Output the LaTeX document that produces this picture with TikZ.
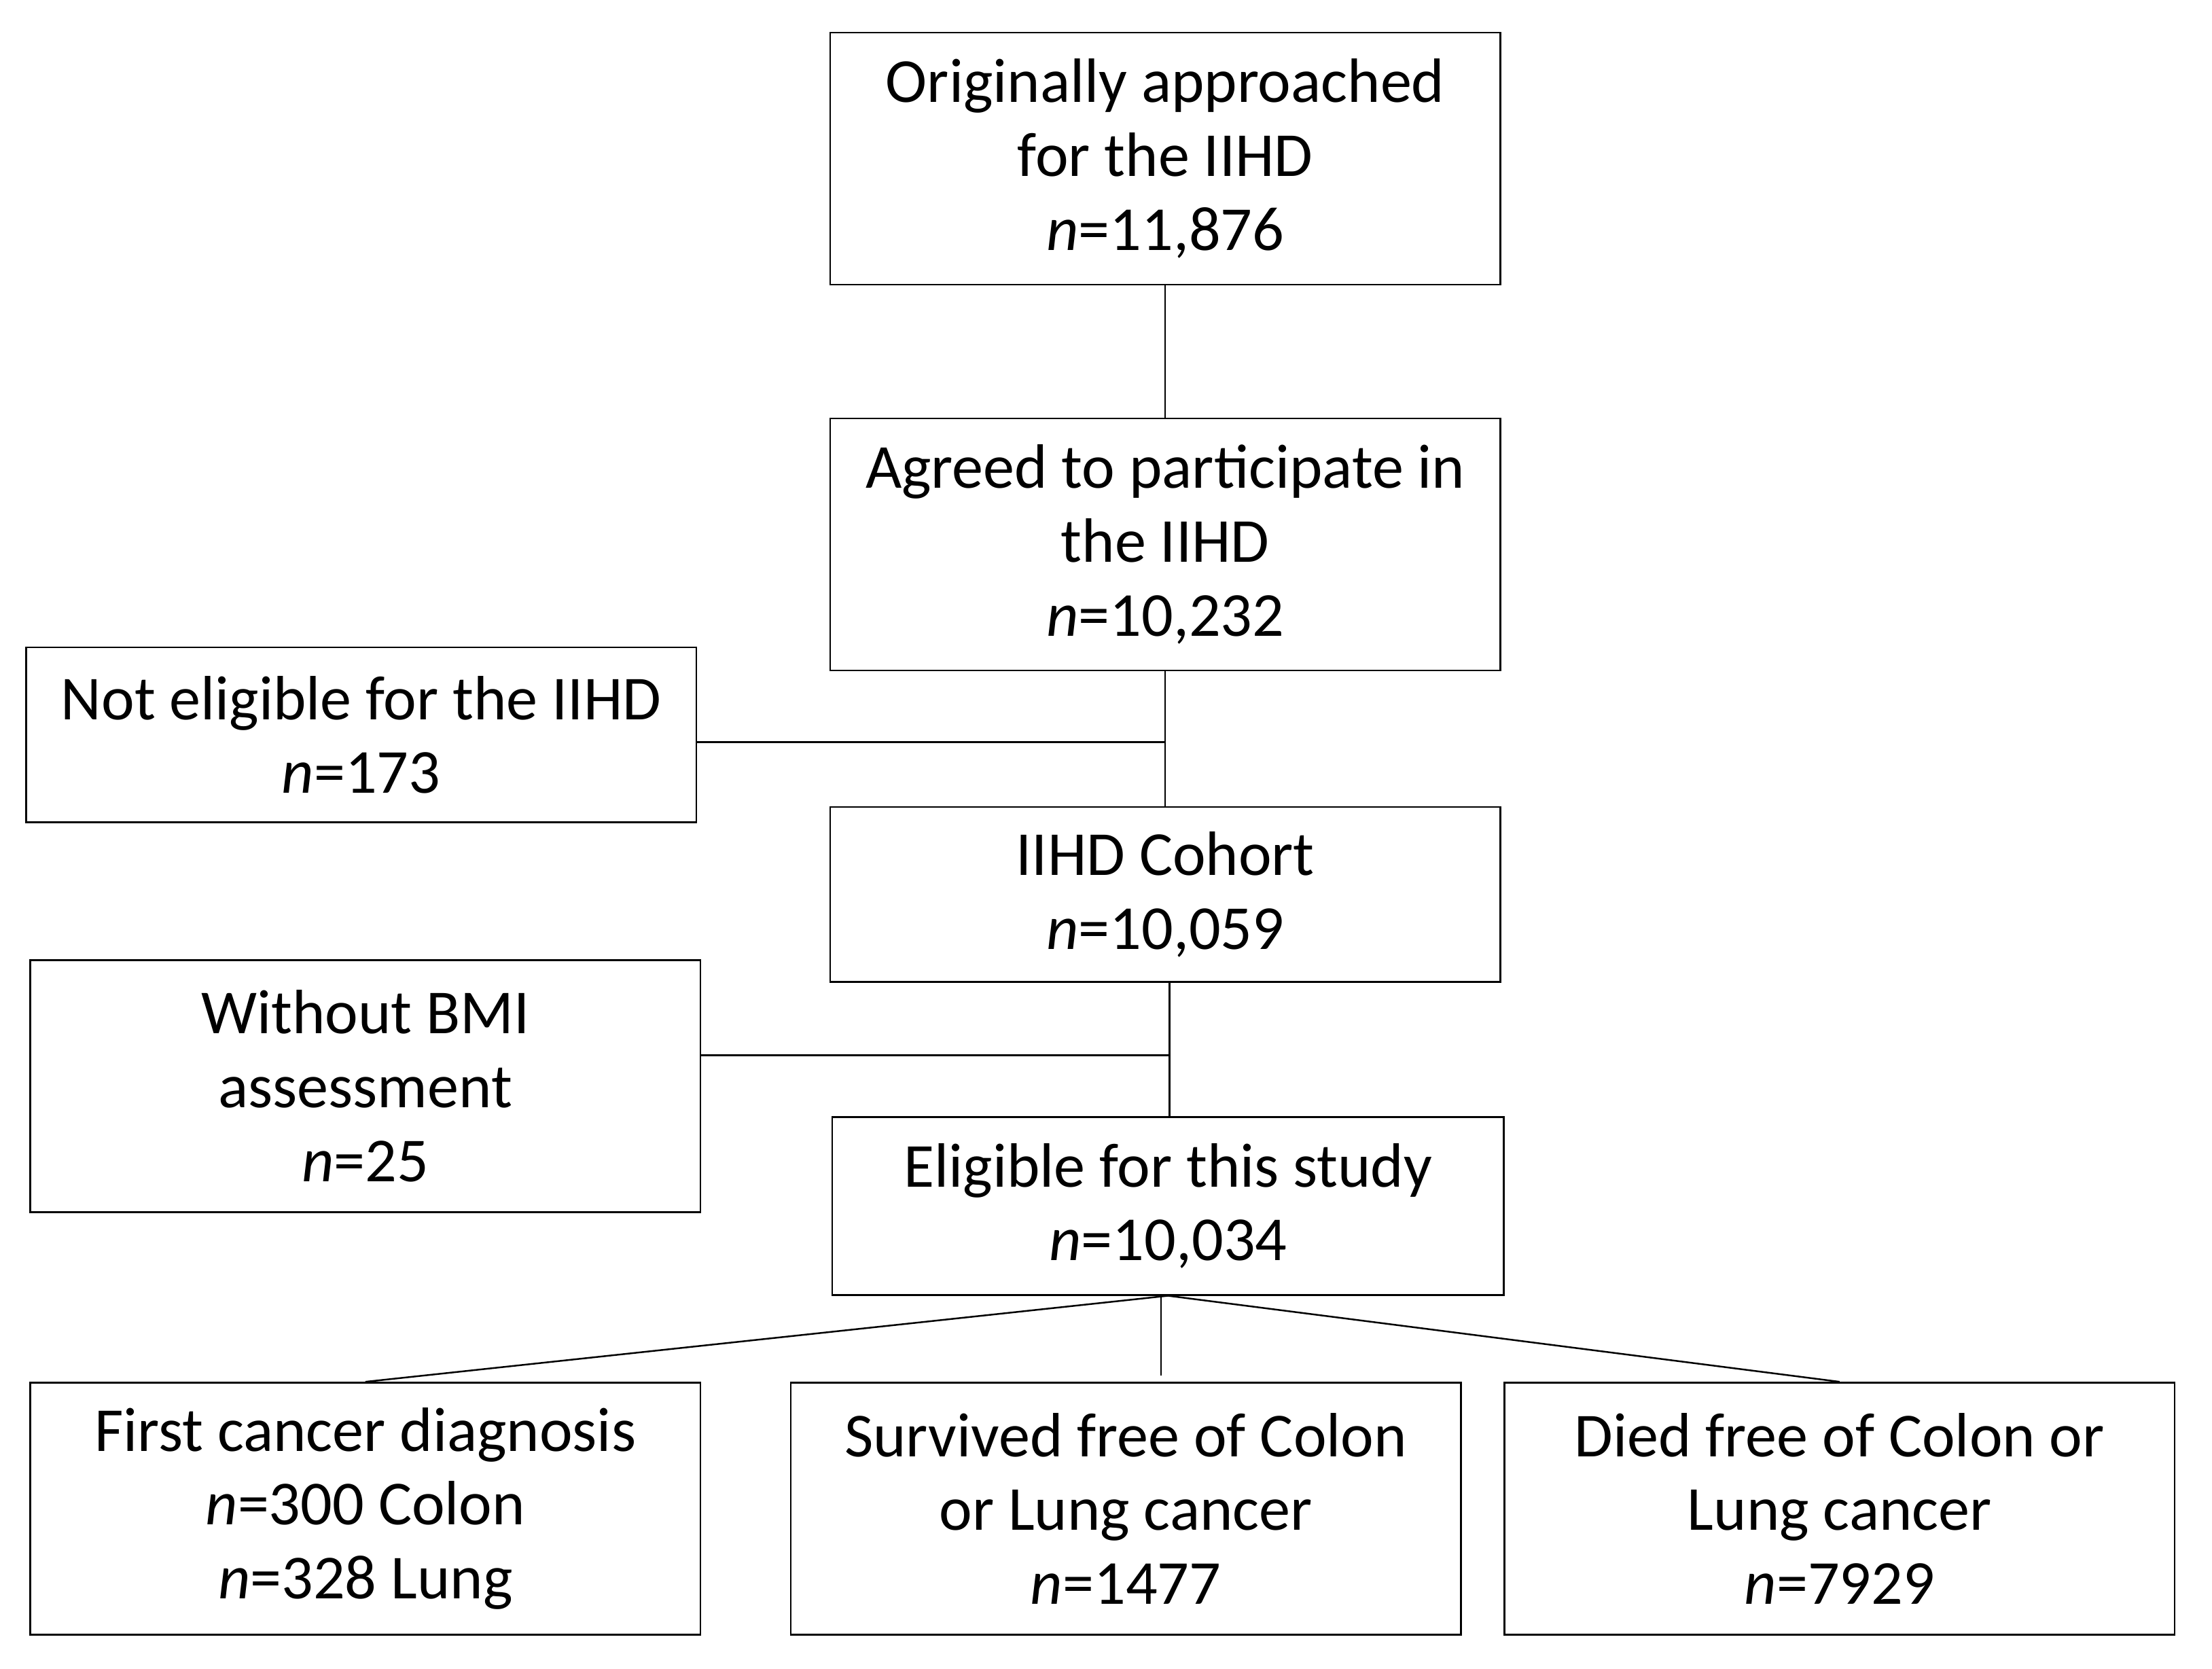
\documentclass[tikz,border=0pt]{standalone}
\usepackage{fontspec}
\setmainfont{Carlito}
\begin{document}
\begin{tikzpicture}[x=0.5pt,y=-0.5pt,
  box/.style={draw=black, line width=0.6pt, align=center, inner sep=0pt,
    font=\fontsize{22.2}{26.2}\selectfont},
  tall/.style={box, minimum width=237.5pt, minimum height=89.3pt},
  short/.style={box, minimum width=237.5pt, minimum height=62pt},
  conn/.style={draw=black, line width=0.6pt}]
\useasboundingbox (0,0) rectangle (1568,1183);
\node[tall] (top) at (826,112.5) {Originally approached\\for the IIHD\\\textit{n}=11,876};
\node[tall] (agreed) at (826,386) {Agreed to participate in\\the IIHD\\\textit{n}=10,232};
\node[short] (noteli) at (256,521) {Not eligible for the IIHD\\\textit{n}=173};
\node[short] (cohort) at (826,634) {IIHD Cohort\\\textit{n}=10,059};
\node[tall] (bmi) at (259,770) {Without BMI\\assessment\\\textit{n}=25};
\node[box, minimum width=238pt, minimum height=63pt] (elig) at (828,855) {Eligible for this study\\\textit{n}=10,034};
\node[tall] (first) at (259,1069.5) {First cancer diagnosis\\\textit{n}=300 Colon\\\textit{n}=328 Lung};
\node[tall] (surv) at (798,1069.5) {Survived free of Colon\\or Lung cancer\\\textit{n}=1477};
\node[tall] (died) at (1304,1069.5) {Died free of Colon or\\Lung cancer\\\textit{n}=7929};
\coordinate (j1) at (826,526);
\coordinate (j2) at (829,748);
\coordinate (v) at (823,975);
\draw[conn] (top.south) -- (agreed.north);
\draw[conn] (agreed.south) -- (cohort.north);
\draw[conn] (noteli.east |- j1) -- (j1);
\draw[conn] (cohort.south -| j2) -- (elig.north -| j2);
\draw[conn] (bmi.east |- j2) -- (j2);
\draw[conn] (elig.south) -- (first.north);
\draw[conn] (elig.south) -- (died.north);
\draw[conn] (elig.south -| v) -- (v);
\end{tikzpicture}
\end{document}
